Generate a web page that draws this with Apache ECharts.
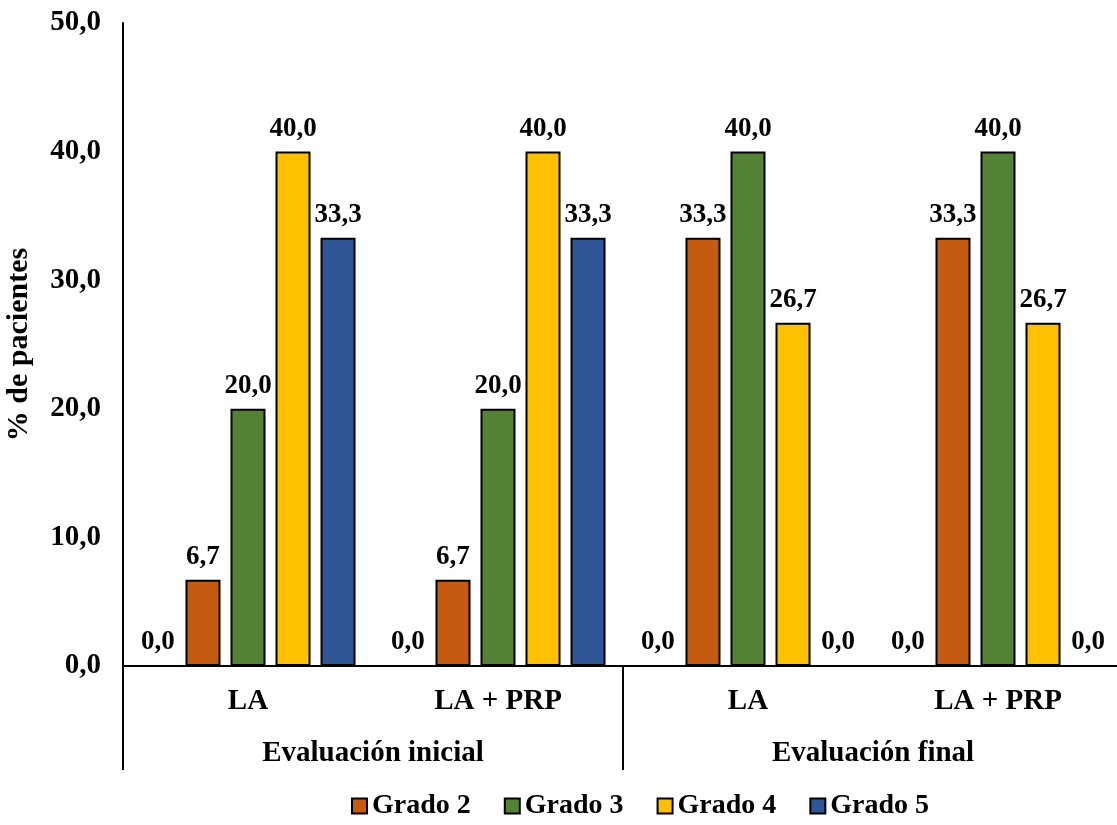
<!DOCTYPE html>
<html>
<head>
<meta charset="utf-8">
<script src="https://cdn.jsdelivr.net/npm/echarts@6/dist/echarts.min.js"></script>
<style>
  html, body { margin: 0; padding: 0; background: #fff; }
  #chart { width: 1117px; height: 825px; }
</style>
</head>
<body>
<div id="chart"></div>
<script>
// Treatment groups and evaluation stages
const categories = ['LA', 'LA + PRP', 'LA', 'LA + PRP'];
const stages = ['Evaluación inicial', 'Evaluación final'];

// % of patients per grade
const grado1 = [0, 0, 0, 0];
const grado2 = [6.7, 6.7, 33.3, 33.3];
const grado3 = [20.0, 20.0, 40.0, 40.0];
const grado4 = [40.0, 40.0, 26.7, 26.7];
const grado5 = [33.3, 33.3, 0, 0];

const yTicks = { min: 0, max: 50, interval: 10 };

const FONT = '"Liberation Serif", "Times New Roman", serif';
const fmt = v => Number(v).toFixed(1).replace('.', ',');

const chart = echarts.init(document.getElementById('chart'), null, { renderer: 'canvas' });

function barSeries(name, data, color) {
  return {
    name: name,
    type: 'bar',
    data: data,
    barWidth: 35,
    barGap: '28.6%',
    itemStyle: { color: color, borderColor: '#000', borderWidth: 2 },
    label: {
      show: true,
      position: 'top',
      distance: 9,
      formatter: p => fmt(p.value),
      fontFamily: FONT,
      fontWeight: 'bold',
      fontSize: 27,
      color: '#000'
    }
  };
}

chart.setOption({
  animation: false,
  backgroundColor: '#fff',
  grid: {
    left: 123, top: 23, width: 1000, height: 643,
    containLabel: false,
    outerBoundsMode: 'none'
  },
  legend: {
    data: ['Grado 2', 'Grado 3', 'Grado 4', 'Grado 5'],
    bottom: 0,
    left: 346,
    icon: 'rect',
    itemWidth: 15,
    itemHeight: 15,
    itemGap: 33,
    itemStyle: { borderColor: '#000', borderWidth: 2 },
    textStyle: { fontFamily: FONT, fontWeight: 'bold', fontSize: 28, color: '#000' }
  },
  xAxis: [
    {
      type: 'category',
      data: categories,
      position: 'bottom',
      axisLine: { show: true, lineStyle: { color: '#000', width: 2 } },
      axisTick: { show: false },
      axisLabel: {
        margin: 21,
        fontFamily: FONT, fontWeight: 'bold', fontSize: 29, color: '#000'
      }
    },
    {
      type: 'category',
      data: stages,
      position: 'bottom',
      offset: 0,
      axisLine: { show: false },
      axisTick: { show: true, length: 104, lineStyle: { color: '#000', width: 2 } },
      axisLabel: {
        margin: 73,
        fontFamily: FONT, fontWeight: 'bold', fontSize: 29, color: '#000'
      }
    }
  ],
  yAxis: {
    type: 'value',
    min: yTicks.min,
    max: yTicks.max,
    interval: yTicks.interval,
    name: '% de pacientes',
    nameLocation: 'middle',
    nameGap: 89,
    nameRotate: 90,
    nameTextStyle: { fontFamily: FONT, fontWeight: 'bold', fontSize: 30, color: '#000' },
    axisLine: { show: true, lineStyle: { color: '#000', width: 2 } },
    axisTick: { show: false },
    splitLine: { show: false },
    axisLabel: {
      margin: 22,
      formatter: v => fmt(v),
      fontFamily: FONT, fontWeight: 'bold', fontSize: 29, color: '#000'
    }
  },
  series: [
    barSeries('Grado 1', grado1, '#A5A5A5'),
    barSeries('Grado 2', grado2, '#C55A11'),
    barSeries('Grado 3', grado3, '#548235'),
    barSeries('Grado 4', grado4, '#FFC000'),
    barSeries('Grado 5', grado5, '#2F5597')
  ]
});
</script>
</body>
</html>
